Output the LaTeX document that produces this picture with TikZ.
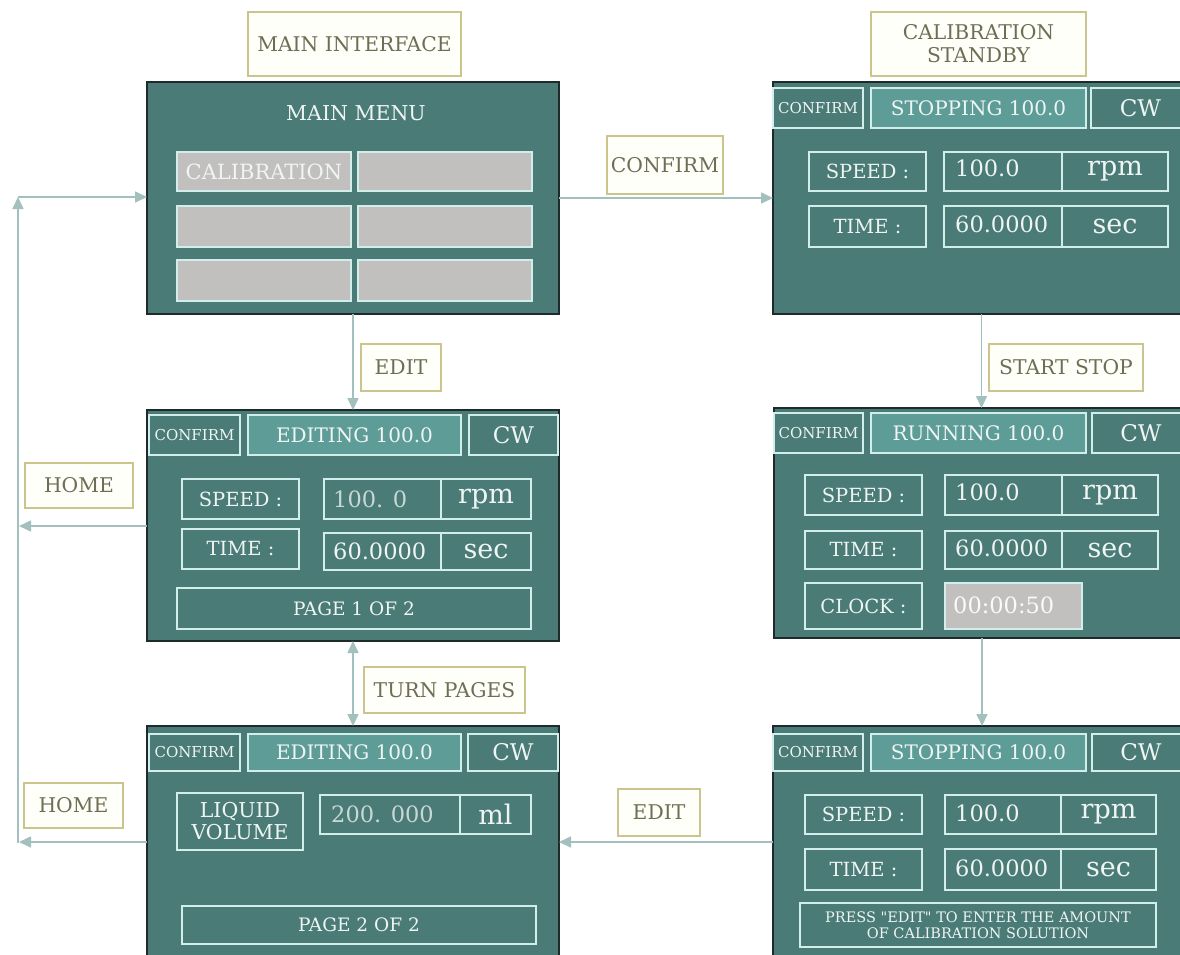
\documentclass[tikz,border=0pt]{standalone}
\usepackage{fontspec}
\setmainfont{DejaVu Serif}
\usetikzlibrary{arrows.meta}
\definecolor{panel}{HTML}{4A7B76}
\definecolor{hilite}{HTML}{5E9C97}
\definecolor{lite}{HTML}{D2EEEB}
\definecolor{wtxt}{HTML}{EEF5F3}
\definecolor{vtxt}{HTML}{C9D8D6}
\definecolor{btngray}{HTML}{C2C0BF}
\definecolor{dark}{HTML}{1E2B2A}
\definecolor{lblborder}{HTML}{CBC48C}
\definecolor{lblfill}{HTML}{FFFFFA}
\definecolor{lbltxt}{HTML}{6F6E55}
\definecolor{arrowc}{HTML}{A2C0BE}
\newcommand\fz[2]{\fontsize{#1}{#2}\selectfont}
\newcommand\bx[7][]{\node[inner sep=0pt, outer sep=0pt, #1, minimum width={#5-#3}, minimum height={#6-#4}] (#2) at ({(#3+#5)/2},{(#4+#6)/2}) {#7};}
\tikzset{
  panelbox/.style={draw=dark, fill=panel, line width=2pt},
  hbox/.style={draw=lite, line width=1.3pt, text=wtxt, font=\fz{19.5}{22}},
  hsmall/.style={hbox, font=\fz{15}{17}},
  hmid/.style={hbox, fill=hilite, font=\fz{20}{23}},
  hcw/.style={hbox, font=\fz{23}{26}},
  unitbox/.style={hbox, font=\fz{27}{30}},
  gbtn/.style={draw=lite, fill=btngray, line width=1.3pt, text=wtxt, font=\fz{21}{24}},
  lbl/.style={draw=lblborder, fill=lblfill, line width=1.2pt, text=lbltxt, font=\fz{20.3}{23}, align=center},
  valtxt/.style={text=wtxt, anchor=west, inner sep=0pt, font=\fz{22.5}{25}},
  lighttxt/.style={valtxt, text=vtxt},
  conn/.style={draw=arrowc, line width=1.6pt, -{Triangle[length=12pt,width=11pt]}},
}
\begin{document}
\begin{tikzpicture}[x=1pt,y=-1pt]
\useasboundingbox (0,0) rectangle (1180,955);
\fill[white] (0,0) rectangle (1180,955);

% ---------- panel 1: main menu
\bx[panelbox]{p1}{147}{82}{559}{314}{}
\node[text=wtxt, font=\fz{20.5}{23}] (p1t) at (356,113) {MAIN MENU};
\bx[gbtn]{p1a}{177}{152}{351}{191}{CALIBRATION}
\bx[gbtn]{p1b}{358}{152}{532}{191}{}
\bx[gbtn]{p1c}{177}{206}{351}{247}{}
\bx[gbtn]{p1d}{358}{206}{532}{247}{}
\bx[gbtn]{p1e}{177}{260}{351}{301}{}
\bx[gbtn]{p1f}{358}{260}{532}{301}{}

% ---------- panel 2: calibration standby
\bx[panelbox]{p2}{773}{82}{1190}{314}{}
\bx[hsmall]{p2c}{773}{88}{863}{128}{CONFIRM}
\bx[hmid]{p2s}{871}{88}{1086}{128}{STOPPING 100.0}
\bx[hcw]{p2w}{1091}{88}{1190}{128}{CW}
\bx[hbox]{p2sp}{809}{152}{926}{191}{SPEED :}
\bx[hbox]{p2v1}{944}{152}{1062}{191}{}
\bx[unitbox]{p2u1}{1062}{152}{1168}{191}{rpm}
\bx[hbox]{p2ti}{809}{206}{926}{247}{TIME :}
\bx[hbox]{p2v2}{944}{206}{1062}{247}{}
\bx[unitbox]{p2u2}{1062}{206}{1168}{247}{sec}
\node[valtxt] (p2n1) at (955,168) {100.0};
\node[valtxt] (p2n2) at (955,224) {60.0000};

% ---------- panel 3: editing page 1
\bx[panelbox]{p3}{147}{410}{559}{641}{}
\bx[hsmall]{p3c}{149}{415}{240}{455}{CONFIRM}
\bx[hmid]{p3s}{248}{415}{461}{455}{EDITING 100.0}
\bx[hcw]{p3w}{469}{415}{558}{455}{CW}
\bx[hbox]{p3sp}{182}{479}{299}{519}{SPEED :}
\bx[hbox]{p3v1}{324}{479}{441}{519}{}
\bx[unitbox]{p3u1}{441}{479}{531}{519}{rpm}
\bx[hbox]{p3ti}{182}{529}{299}{569}{TIME :}
\bx[hbox]{p3v2}{324}{533}{441}{570}{}
\bx[unitbox]{p3u2}{441}{533}{531}{570}{sec}
\node[lighttxt] (p3n1) at (333,499) {100. 0};
\node[valtxt] (p3n2) at (333,551) {60.0000};
\bx[hbox, font=\fz{18.5}{21}]{p3pg}{177}{588}{531}{629}{PAGE 1 OF 2}

% ---------- panel 4: running
\bx[panelbox]{p4}{774}{408}{1190}{638}{}
\bx[hsmall]{p4c}{774}{413}{863}{453}{CONFIRM}
\bx[hmid]{p4s}{871}{413}{1086}{453}{RUNNING 100.0}
\bx[hcw]{p4w}{1092}{413}{1190}{453}{CW}
\bx[hbox]{p4sp}{805}{475}{922}{515}{SPEED :}
\bx[hbox]{p4v1}{945}{475}{1062}{515}{}
\bx[unitbox]{p4u1}{1062}{475}{1158}{515}{rpm}
\bx[hbox]{p4ti}{805}{531}{922}{569}{TIME :}
\bx[hbox]{p4v2}{945}{531}{1062}{569}{}
\bx[unitbox]{p4u2}{1062}{531}{1158}{569}{sec}
\node[valtxt] (p4n1) at (955,492) {100.0};
\node[valtxt] (p4n2) at (955,548) {60.0000};
\bx[hbox]{p4cl}{805}{583}{922}{629}{CLOCK :}
\bx[draw=lite, fill=btngray, line width=1.3pt]{p4ck}{945}{583}{1082}{629}{}
\node[valtxt, text=white!92!btngray] (p4ct) at (953,605) {00:00:50};

% ---------- panel 5: editing page 2
\bx[panelbox]{p5}{147}{726}{559}{970}{}
\bx[hsmall]{p5c}{149}{734}{240}{771}{CONFIRM}
\bx[hmid]{p5s}{248}{734}{461}{771}{EDITING 100.0}
\bx[hcw]{p5w}{468}{734}{558}{771}{CW}
\bx[hbox, align=center, font=\fz{20.5}{22}]{p5lv}{177}{793}{303}{850}{LIQUID\\VOLUME}
\bx[hbox]{p5v1}{320}{795}{460}{834}{}
\bx[unitbox]{p5u1}{460}{795}{531}{834}{ml}
\node[lighttxt] (p5n1) at (331,814) {200. 000};
\bx[hbox, font=\fz{18.5}{21}]{p5pg}{182}{906}{536}{944}{PAGE 2 OF 2}

% ---------- panel 6: stopping
\bx[panelbox]{p6}{773}{726}{1190}{970}{}
\bx[hsmall]{p6c}{773}{734}{863}{771}{CONFIRM}
\bx[hmid]{p6s}{871}{734}{1086}{771}{STOPPING 100.0}
\bx[hcw]{p6w}{1092}{734}{1190}{771}{CW}
\bx[hbox]{p6sp}{805}{795}{922}{834}{SPEED :}
\bx[hbox]{p6v1}{945}{795}{1061}{834}{}
\bx[unitbox]{p6u1}{1061}{795}{1156}{834}{rpm}
\bx[hbox]{p6ti}{805}{849}{922}{890}{TIME :}
\bx[hbox]{p6v2}{945}{849}{1061}{890}{}
\bx[unitbox]{p6u2}{1061}{849}{1156}{890}{sec}
\node[valtxt] (p6n1) at (955,813) {100.0};
\node[valtxt] (p6n2) at (955,868) {60.0000};
\bx[hbox, align=center, font=\fz{14.5}{15.5}]{p6pr}{800}{903}{1156}{947}{PRESS \textquotedbl EDIT\textquotedbl{} TO ENTER THE AMOUNT\\OF CALIBRATION SOLUTION}

% ---------- labels
\bx[lbl]{lmain}{248}{12}{461}{76}{MAIN INTERFACE}
\bx[lbl]{lstand}{871}{12}{1086}{76}{CALIBRATION\\STANDBY}
\bx[lbl]{lconf}{607}{136}{723}{194}{CONFIRM}
\bx[lbl]{ledit}{361}{344}{441}{391}{EDIT}
\bx[lbl]{lstart}{989}{344}{1143}{391}{START STOP}
\bx[lbl]{lhome}{25}{463}{133}{508}{HOME}
\bx[lbl]{lturn}{364}{667}{525}{713}{TURN PAGES}
\bx[lbl]{lhomeb}{24}{783}{123}{828}{HOME}
\bx[lbl]{leditb}{618}{789}{700}{836}{EDIT}

% ---------- connectors
\coordinate (ya) at (0,526);
\coordinate (yb) at (0,842);
\coordinate (la) at (19,526);
\coordinate (lb) at (19,842);
\coordinate (lbot) at (18,843);
\coordinate (ltop) at (18,197);
\draw[conn] (p1.south) -- (p3.north);
\draw[conn] (p1.east) -- (p1.east -| p2.west);
\draw[conn] (p2.south) -- (p2.south |- p4.north);
\draw[conn] (p4.south) -- (p4.south |- p6.north);
\draw[conn] (p6.west |- yb) -- (p5.east |- yb);
\draw[conn, {Triangle[length=12pt,width=11pt]}-{Triangle[length=12pt,width=11pt]}] (p3.south) -- (p5.north);
\draw[conn] (p3.west |- ya) -- (la);
\draw[conn] (p5.west |- yb) -- (lb);
\draw[conn] (lbot) -- (ltop);
\draw[conn] (ltop) -- (ltop -| p1.west);
\end{tikzpicture}
\end{document}
